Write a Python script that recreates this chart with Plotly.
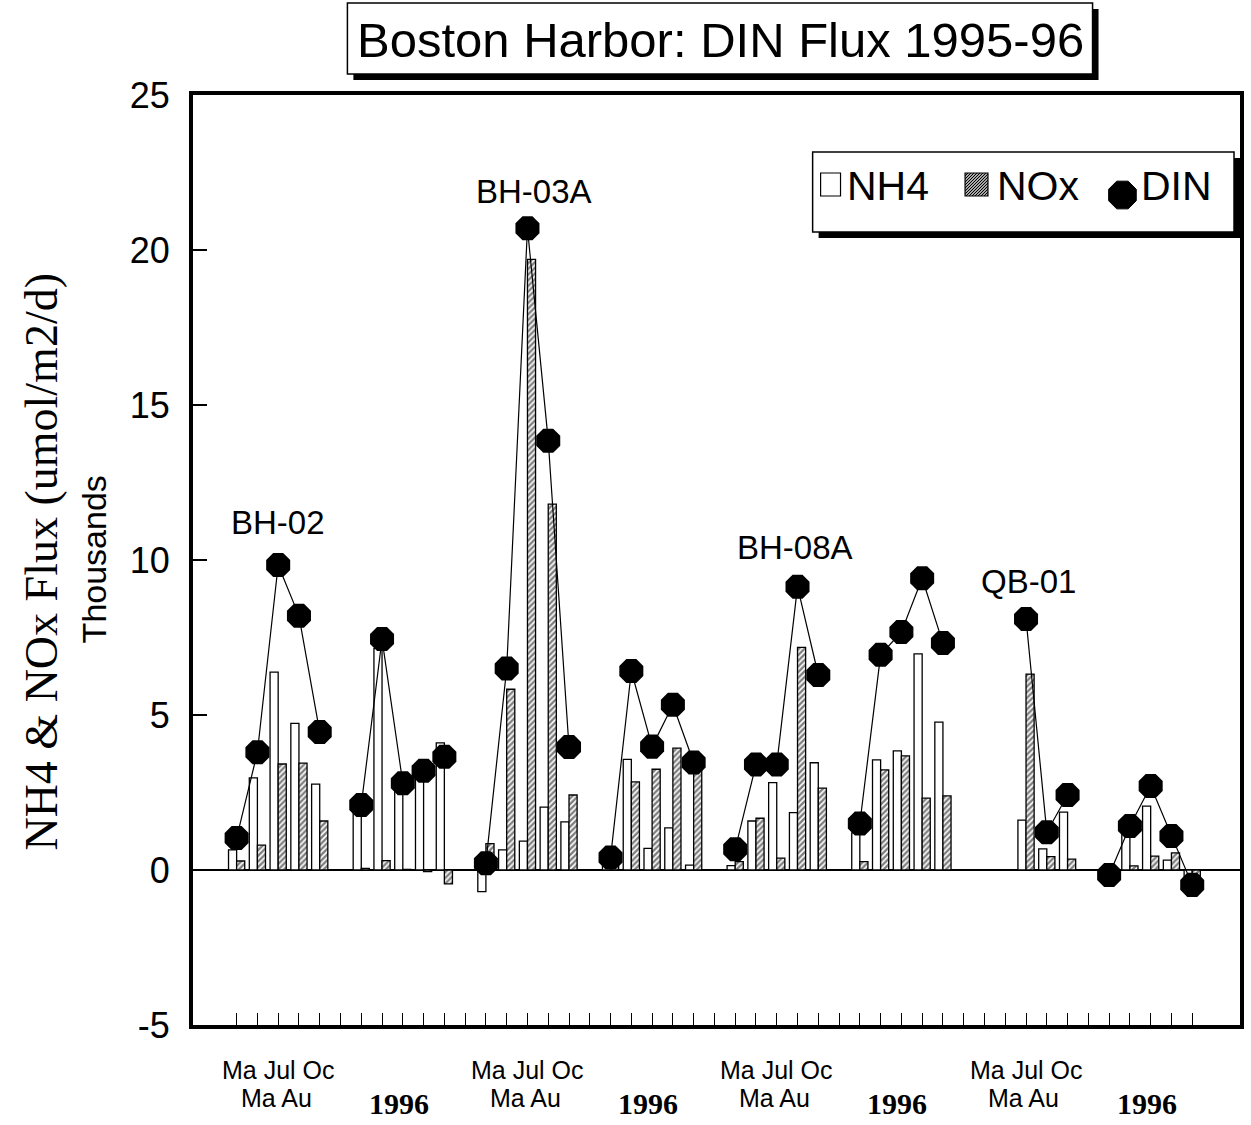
import math
import plotly.graph_objects as go

# ---------------- data (thousands of umol/m2/d) ----------------
stations = ["BH-02", "BH-03A", "BH-08A", "QB-01"]
station_label_x = [2.0, 14.3, 26.9, 38.1]
station_label_y = [11.2, 21.9, 10.4, 9.3]

row1_label = "Ma Jul Oc"
row2_label = "Ma Au"
year2_label = "1996"
y_tick_vals = [-5, 0, 5, 10, 15, 20, 25]
y_tick_text = ["-5", "0", "5", "10", "15", "20", "25"]

nh4 = [0.65, 2.97, 6.38, 4.73, 2.77, None, 2.05, 7.15, 2.8, 3.25, 4.1, None,
       -0.7, 0.65, 0.93, 2.03, 1.55, None, 0.2, 3.57, 0.7, 1.36, 0.16, None,
       0.14, 1.58, 2.82, 1.85, 3.46, None, 1.2, 3.55, 3.84, 6.97, 4.77, None,
       None, None, 1.61, 0.68, 1.87, None, -0.1, 1.3, 2.06, 0.32, -0.3]
nox = [0.29, 0.8, 3.42, 3.45, 1.58, None, 0.05, 0.3, 0.02, -0.05, -0.45, None,
       0.85, 5.83, 19.7, 11.8, 2.42, None, 0.15, 2.84, 3.25, 3.93, 3.38, None,
       0.27, 1.67, 0.38, 7.18, 2.64, None, 0.27, 3.23, 3.68, 2.32, 2.39, None,
       None, None, 6.32, 0.43, 0.35, None, -0.05, 0.13, 0.45, 0.55, -0.2]
din = [1.03, 3.8, 9.84, 8.2, 4.45, None, 2.1, 7.45, 2.8, 3.2, 3.65, None,
       0.22, 6.5, 20.7, 13.85, 3.97, None, 0.4, 6.42, 3.98, 5.33, 3.47, None,
       0.67, 3.4, 3.4, 9.14, 6.29, None, 1.5, 6.94, 7.68, 9.41, 7.32, None,
       None, None, 8.1, 1.22, 2.42, None, -0.16, 1.42, 2.71, 1.1, -0.48]

slots = list(range(len(din)))

# ---------------- layout helpers ----------------
W, H = 1251, 1125
L, R, T, B = 193, 1244, 95, 1025  # plot area in pixels


def PX(x):
    return (x - L) / (R - L)


def PY(y):
    return (B - y) / (B - T)


SANS = "Arial, Liberation Sans, Helvetica, sans-serif"
SERIF = "Times New Roman, Liberation Serif, serif"

fig = go.Figure()

fig.add_trace(go.Bar(
    x=slots, y=nh4, name="NH4",
    marker=dict(color="white", line=dict(color="black", width=1.3)),
    showlegend=False,
))
fig.add_trace(go.Bar(
    x=slots, y=nox, name="NOx",
    marker=dict(color="white", line=dict(color="black", width=1.3),
                pattern=dict(shape="/", fgcolor="black", bgcolor="white",
                             size=4, solidity=0.6)),
    showlegend=False,
))
fig.add_trace(go.Scatter(
    x=slots, y=din, name="DIN", mode="lines+markers",
    connectgaps=False,
    line=dict(color="black", width=1.2),
    marker=dict(symbol="octagon", size=26, color="black",
                line=dict(color="black", width=0)),
    showlegend=False, cliponaxis=False,
))

annotations = []
shapes = []

# station labels
for name, sx, sy in zip(stations, station_label_x, station_label_y):
    annotations.append(dict(x=sx, y=sy, xref="x", yref="y", text=name,
                            showarrow=False, font=dict(family=SANS, size=33, color="black")))

# category labels below axis
for s in range(len(stations)):
    base = 12 * s
    annotations.append(dict(x=base + 2.0, y=PY(1070), xref="x", yref="paper",
                            text=row1_label, showarrow=False, yanchor="middle",
                            font=dict(family=SANS, size=25, color="black")))
    annotations.append(dict(x=base + 1.9, y=PY(1098), xref="x", yref="paper",
                            text=row2_label, showarrow=False, yanchor="middle",
                            font=dict(family=SANS, size=25, color="black")))
    annotations.append(dict(x=base + 7.8, y=PY(1103), xref="x", yref="paper",
                            text="<b>" + year2_label + "</b>", showarrow=False, yanchor="middle",
                            font=dict(family=SERIF, size=30, color="black")))

# axis titles
annotations.append(dict(x=PX(40), y=PY(562), xref="paper", yref="paper",
                        text="NH4 &amp; NOx Flux (umol/m2/d)", textangle=-90,
                        showarrow=False, xanchor="center", yanchor="middle",
                        font=dict(family=SERIF, size=46, color="black")))
annotations.append(dict(x=PX(94), y=PY(559), xref="paper", yref="paper",
                        text="Thousands", textangle=-90,
                        showarrow=False, xanchor="center", yanchor="middle",
                        font=dict(family=SANS, size=34, color="black")))

# title box with shadow
tb = (348, 3, 1096, 74)
shapes.append(dict(type="rect", xref="paper", yref="paper",
                   x0=PX(tb[0] + 6), x1=PX(tb[2] + 6), y0=PY(tb[3] + 6), y1=PY(tb[1] + 6),
                   fillcolor="black", line=dict(width=0), layer="above"))
shapes.append(dict(type="rect", xref="paper", yref="paper",
                   x0=PX(tb[0]), x1=PX(tb[2]), y0=PY(tb[3]), y1=PY(tb[1]),
                   fillcolor="white", line=dict(color="black", width=1.5), layer="above"))
annotations.append(dict(x=PX((tb[0] + tb[2]) / 2 + 1), y=PY(40), xref="paper", yref="paper",
                        text="Boston Harbor: DIN Flux 1995-96", showarrow=False,
                        xanchor="center", yanchor="middle",
                        font=dict(family=SANS, size=49, color="black")))

# legend box with shadow
lb = (815, 152, 1238, 232)
shapes.append(dict(type="rect", xref="paper", yref="paper",
                   x0=PX(lb[0] + 6), x1=PX(lb[2] + 6), y0=PY(lb[3] + 6), y1=PY(lb[1] + 6),
                   fillcolor="black", line=dict(width=0), layer="above"))
shapes.append(dict(type="rect", xref="paper", yref="paper",
                   x0=PX(lb[0]), x1=PX(lb[2]), y0=PY(lb[3]), y1=PY(lb[1]),
                   fillcolor="white", line=dict(color="black", width=1.5), layer="above"))
# NH4 swatch
shapes.append(dict(type="rect", xref="paper", yref="paper",
                   x0=PX(823), x1=PX(843), y0=PY(196), y1=PY(173),
                   fillcolor="white", line=dict(color="black", width=1.2), layer="above"))
# NOx swatch (hatched)
sx0, sx1, sy0, sy1 = 968, 991, 173, 196
shapes.append(dict(type="rect", xref="paper", yref="paper",
                   x0=PX(sx0), x1=PX(sx1), y0=PY(sy1), y1=PY(sy0),
                   fillcolor="#aaaaaa", line=dict(color="black", width=1.2), layer="above"))
segs = []
side = sy1 - sy0
for k in range(-side, sx1 - sx0, 3):
    xs = sx0 + k
    t0 = max(0, sx0 - xs)
    t1 = min(side, sx1 - xs)
    if t1 <= t0:
        continue
    segs.append("M {:.5f} {:.5f} L {:.5f} {:.5f}".format(
        PX(xs + t0), PY(sy1 - t0), PX(xs + t1), PY(sy1 - t1)))
shapes.append(dict(type="path", xref="paper", yref="paper", path=" ".join(segs),
                   line=dict(color="black", width=1), layer="above"))
# DIN swatch (octagon)
cx, cy, rr = 1126, 195, 15
pts = []
for i in range(8):
    a = math.radians(22.5 + 45 * i)
    pts.append((PX(cx + rr * math.cos(a)), PY(cy + rr * math.sin(a))))
oct_path = "M " + " L ".join("{:.5f} {:.5f}".format(px, py) for px, py in pts) + " Z"
shapes.append(dict(type="path", xref="paper", yref="paper", path=oct_path,
                   fillcolor="black", line=dict(color="black", width=1), layer="above"))

for txt, xl in [("NH4", 847), ("NOx", 998), ("DIN", 1143)]:
    annotations.append(dict(x=PX(xl), y=PY(186), xref="paper", yref="paper",
                            text=txt, showarrow=False, xanchor="left", yanchor="middle",
                            font=dict(family=SANS, size=41, color="black")))

fig.update_layout(
    width=W, height=H,
    margin=dict(l=L, r=W - R, t=T, b=H - B, pad=0),
    paper_bgcolor="white", plot_bgcolor="white",
    barmode="group", bargap=0.22, bargroupgap=0.0,
    showlegend=False,
    annotations=annotations, shapes=shapes,
    xaxis=dict(range=[-2.1, 48.3], tickmode="array", tickvals=slots,
               showticklabels=False, ticks="inside", ticklen=12, tickwidth=1.3,
               tickcolor="black", showline=True, linecolor="black", linewidth=4,
               mirror=True, showgrid=False, zeroline=False),
    yaxis=dict(range=[-5, 25], tickmode="array", tickvals=y_tick_vals, ticktext=y_tick_text,
               ticks="inside", ticklen=14, tickwidth=1.5, tickcolor="black",
               showline=True, linecolor="black", linewidth=4, mirror=True,
               showgrid=False, zeroline=True, zerolinecolor="black", zerolinewidth=1.5,
               tickfont=dict(family=SANS, size=36, color="black"),
               ticklabelstandoff=12),
)

fig.write_html("out.html", config={"displayModeBar": False},
               post_script="document.body.style.margin='0';document.body.style.overflow='hidden';")
